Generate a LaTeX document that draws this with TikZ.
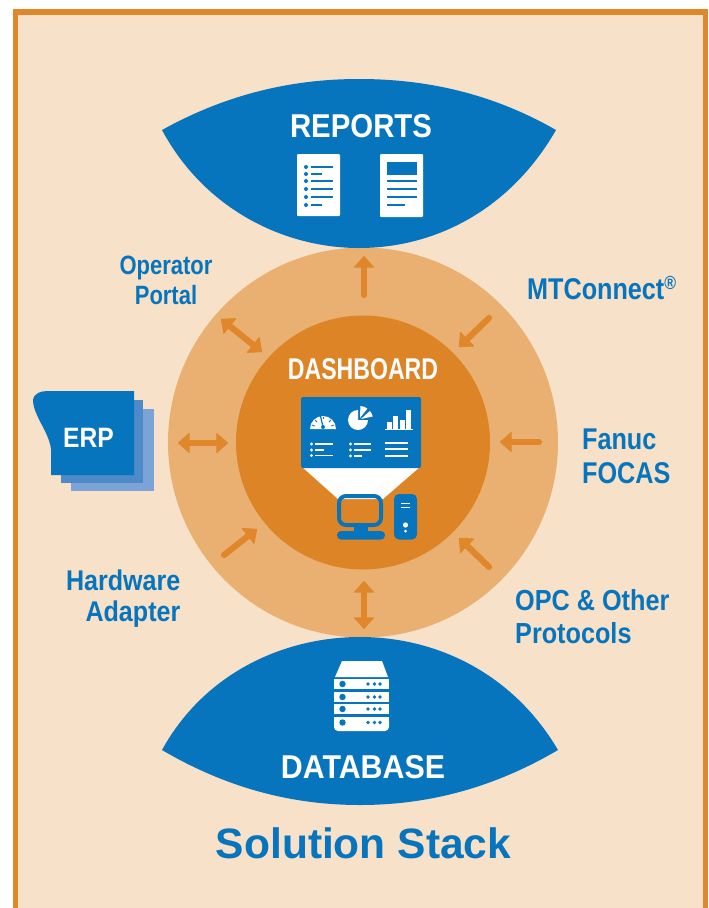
\documentclass[tikz,border=0pt]{standalone}
\usepackage{fontspec}
\setmainfont{Liberation Sans}
\usetikzlibrary{arrows.meta}
\definecolor{frameor}{HTML}{E0872B}
\definecolor{paper}{HTML}{F7E1C8}
\definecolor{ringor}{HTML}{EAB071}
\definecolor{coreor}{HTML}{DD8426}
\definecolor{blu}{HTML}{0675BD}
\definecolor{blumid}{HTML}{4F8AC8}
\definecolor{blulight}{HTML}{7BA3D8}
\tikzset{
  x=1pt,y=-1pt,
  headtip/.tip={Triangle[length=12pt,width=21pt,round,line width=1pt]},
  one/.style={draw=frameor,fill=frameor,line width=6.2pt,line cap=round,-{headtip}},
  two/.style={draw=frameor,fill=frameor,line width=6.2pt,{headtip}-{headtip}},
  lbl/.style={text=blu,font=\fontsize{30}{30}\selectfont\bfseries,inner sep=0pt,anchor=base west,xscale=.84},
  lbls/.style={text=blu,font=\fontsize{26.5}{30}\selectfont\bfseries,inner sep=0pt,anchor=base,xscale=.83},
  lblh/.style={text=blu,font=\fontsize{28.5}{30}\selectfont\bfseries,inner sep=0pt,anchor=base east,xscale=.88},
  lblo/.style={text=blu,font=\fontsize{29}{30}\selectfont\bfseries,inner sep=0pt,anchor=base west,xscale=.87},
  wlbl/.style={text=white,font=\bfseries,inner sep=0pt},
  bline/.style={draw=blu,line width=1.4pt},
  wline/.style={draw=white,line width=1.2pt},
}
\begin{document}
\begin{tikzpicture}
\useasboundingbox (0,0) rectangle (709,908);
\fill[white] (0,0) rectangle (709,908);
% frame
\fill[paper] (15,12) rectangle (706,908);
\draw[frameor,line width=5.5pt] (15.5,908) -- (15.5,12) -- (705.5,12) -- (705.5,908);
% ring
\node[circle,fill=ringor,minimum size=390pt,inner sep=0pt] (ring) at (363,442.5) {};
\node[circle,fill=coreor,minimum size=254pt,inner sep=0pt] (core) at (363,442.5) {};
% lenses
\fill[blu] (162,130) .. controls (225,95) and (290,79) .. (359,79) .. controls (430,79) and (495,95) .. (556,130)
  .. controls (510,210) and (435,248) .. (359,248) .. controls (285,248) and (205,210) .. (162,130) -- cycle;
\fill[blu] (162,750) .. controls (205,672) and (285,637) .. (360,637) .. controls (435,637) and (512,672) .. (558,750)
  .. controls (495,787) and (430,805) .. (360,805) .. controls (290,805) and (225,787) .. (162,750) -- cycle;
\node[wlbl,font=\fontsize{33}{36}\selectfont\bfseries,xscale=.89] (reports) at (361,126) {REPORTS};
\node[wlbl,font=\fontsize{33}{36}\selectfont\bfseries,xscale=.92] (database) at (363,767) {DATABASE};
% report icons
\fill[white,rounded corners=1pt] (297,154) rectangle (340,216);
\foreach \y/\e in {167/333,174/322,181/333,189/333,197/333,205/322}{
  \fill[blu] (306,\y) circle (2pt);
  \draw[bline] (311,\y) -- (\e,\y);
}
\fill[white,rounded corners=1pt] (380,154) rectangle (423,217);
\fill[blu] (387,162) rectangle (417,175);
\foreach \y/\e in {181/417,189/417,197/417,205/405}{\draw[bline] (387,\y) -- (\e,\y);}
% database icon
\fill[white] (335,677) -- (342,661) -- (382,661) -- (388,677) -- cycle;
\foreach \y in {679,692,704}{
  \fill[white] (334,\y) rectangle (389,\y+10);
  \fill[blu] (342.5,\y+5) circle (3.2pt);
  \foreach \x in {368,374.5,380}{\fill[blu] (\x,\y+5) circle (1.8pt);}
}
\fill[white,rounded corners=4pt] (334,717) rectangle (389,731);
\fill[white] (334,717) rectangle (389,722);
\fill[blu] (342.5,722.5) circle (3.2pt);
\foreach \x in {368,374.5,380}{\fill[blu] (\x,722.5) circle (1.8pt);}
% dashboard
\node[wlbl,font=\fontsize{30}{34}\selectfont\bfseries,xscale=.77] (dash) at (363,369) {DASHBOARD};
\fill[white] (301,466) -- (421,466) -- (383,499) -- (338,499) -- cycle;
\fill[blu,rounded corners=2pt] (301,397) rectangle (421,468);
% gauge
\fill[white] (310,429) arc[start angle=180,end angle=360,radius=13] -- cycle;
\draw[blu,line width=1.2pt] (320,414) -- (323,427);
\fill[blu] (323,427) circle (2pt);
\foreach \a/\b/\c/\d in {312/425/315/426,331/426/334/425,315/420/317/422,331/420/329/422,323/417/323/419}{\draw[blu,line width=.8pt] (\a,\b) -- (\c,\d);}
% pie
\fill[white] (358,420) -- (358,410) arc[start angle=-90,end angle=-360,radius=10] -- cycle;
\fill[white] (360,418) -- ++(-88:12) arc[start angle=-88,end angle=-52,radius=12] -- cycle;
\fill[white] (361,419) -- ++(-42:12) arc[start angle=-42,end angle=-12,radius=12] -- cycle;
% bars
\fill[white] (387,422) rectangle (392,429);
\fill[white] (393,416) rectangle (398,429);
\fill[white] (400,420) rectangle (405,429);
\fill[white] (406,410) rectangle (411,429);
\draw[wline] (385,429.5) -- (413,429.5);
% lists
\foreach \y/\e in {444/333,450/324,455.5/333}{\fill[white] (311.5,\y) circle (1.7pt); \draw[wline] (315,\y) -- (\e,\y);}
\foreach \y/\e in {444/371,450/371,456/362}{\fill[white] (350.5,\y) circle (1.7pt); \draw[wline] (354,\y) -- (\e,\y);}
\foreach \y in {443,449,456}{\draw[wline] (385,\y) -- (408,\y);}
% computer
\draw[blu,line width=4pt,rounded corners=7pt] (339,496) rectangle (381,525);
\fill[blu] (354,526) rectangle (368,533);
\fill[blu,rounded corners=4pt] (337,531) rectangle (385,539.5);
\fill[blu,rounded corners=5pt] (394,494) rectangle (417,539.5);
\draw[wline,line width=1pt] (401,503) -- (410,503);
\draw[wline,line width=1pt] (401,507) -- (410,507);
\fill[white] (405.5,525) circle (2.6pt);
\fill[white] (405.5,531) circle (1.5pt);
% ERP
\fill[blulight] (71,409) rectangle (154,491);
\fill[blumid] (61,400) rectangle (143,483);
\fill[blu] (134,391) -- (134,475) -- (51,475) -- (51,449) .. controls (49,432) and (33,415) .. (33,400) .. controls (34,393) and (41,391) .. (48,391) -- cycle;
\node[wlbl,font=\fontsize{28}{32}\selectfont\bfseries,xscale=.88] (erp) at (88.5,437.5) {ERP};
% labels
\node[lbls] (op1) at (166,274) {Operator};
\node[lbls] (op2) at (166,304) {Portal};
\node[lbl] (mt) at (527,299) {MTConnect\textsuperscript{\fontsize{19}{19}\selectfont\textregistered}};
\node[lbl] (fa1) at (582,449.5) {Fanuc};
\node[lbl] (fa2) at (582,483) {FOCAS};
\node[lblo] (opc1) at (515,610) {OPC \& Other};
\node[lblo] (opc2) at (515,643) {Protocols};
\node[lblh] (hw1) at (180.5,590) {Hardware};
\node[lblh] (hw2) at (180.5,621) {Adapter};
\node[text=blu,font=\fontsize{42.5}{46}\selectfont\bfseries,inner sep=0pt] (title) at (363.5,843) {Solution Stack};
% connectors
\coordinate (a1s) at (364,295); \coordinate (a1e) at (364,256);
\coordinate (a2s) at (489,318); \coordinate (a2e) at (459,347);
\coordinate (a3s) at (539,442); \coordinate (a3e) at (500,442);
\coordinate (a4s) at (489,567); \coordinate (a4e) at (459,538);
\coordinate (a5s) at (364,581); \coordinate (a5e) at (364,629);
\coordinate (a6s) at (224,555); \coordinate (a6e) at (257,529);
\coordinate (a7s) at (178,443); \coordinate (a7e) at (228,443);
\coordinate (a8s) at (221,319); \coordinate (a8e) at (262,352);
\draw[one] (a1s) -- (a1e);
\draw[one] (a2s) -- (a2e);
\draw[one] (a3s) -- (a3e);
\draw[one] (a4s) -- (a4e);
\draw[two] (a5s) -- (a5e);
\draw[one] (a6s) -- (a6e);
\draw[two] (a7s) -- (a7e);
\draw[two] (a8s) -- (a8e);
\end{tikzpicture}
\end{document}
